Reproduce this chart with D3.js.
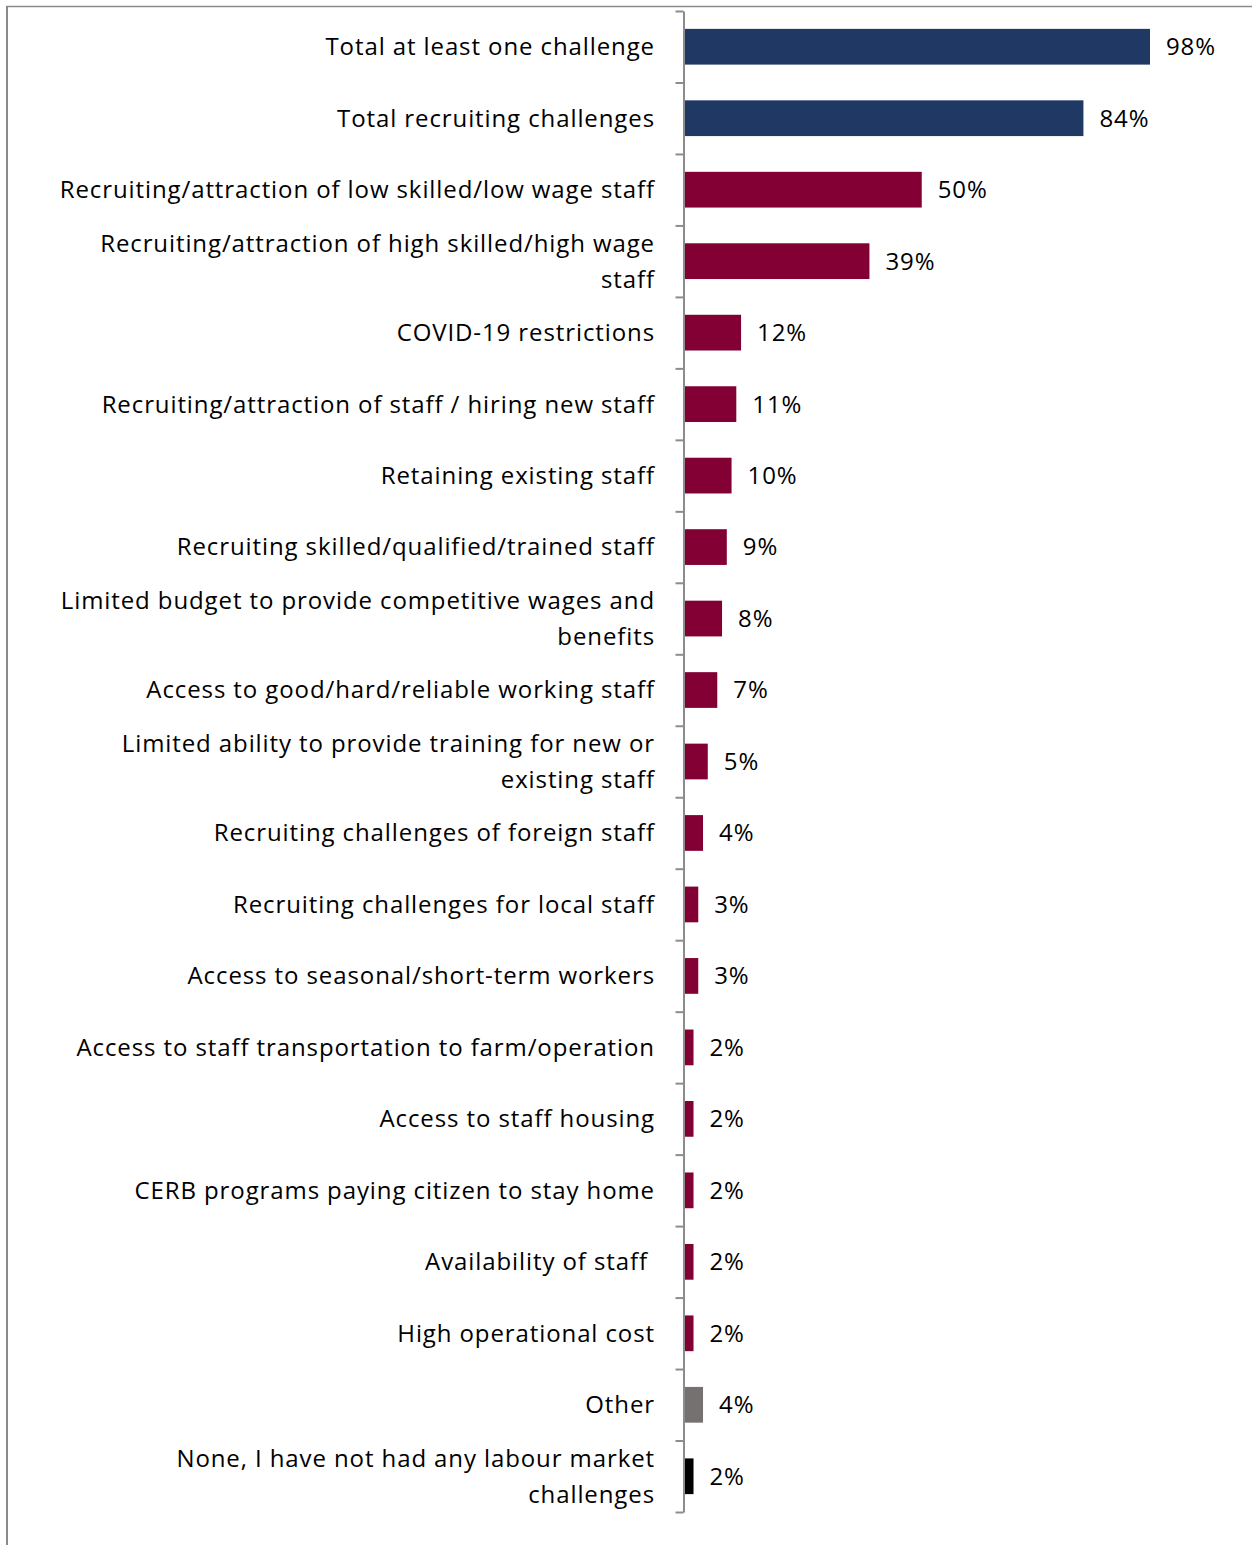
<!DOCTYPE html>
<html>
<head>
<meta charset="utf-8">
<script src="https://cdn.jsdelivr.net/npm/d3@7"></script>
<style>
  html, body { margin: 0; padding: 0; background: #fff; }
  svg { display: block; }
  text { font-family: "Open Sans", Lato, sans-serif; letter-spacing: 0.9px; }
</style>
</head>
<body>
<div id="chart"></div>
<script>
const categories = [
  "Total at least one challenge",
  "Total recruiting challenges",
  "Recruiting/attraction of low skilled/low wage staff",
  "Recruiting/attraction of high skilled/high wage\nstaff",
  "COVID-19 restrictions",
  "Recruiting/attraction of staff / hiring new staff",
  "Retaining existing staff",
  "Recruiting skilled/qualified/trained staff",
  "Limited budget to provide competitive wages and\nbenefits",
  "Access to good/hard/reliable working staff",
  "Limited ability to provide training for new or\nexisting staff",
  "Recruiting challenges of foreign staff",
  "Recruiting challenges for local staff",
  "Access to seasonal/short-term workers",
  "Access to staff transportation to farm/operation",
  "Access to staff housing",
  "CERB programs paying citizen to stay home",
  "Availability of staff ",
  "High operational cost",
  "Other",
  "None, I have not had any labour market\nchallenges"
];
const values = [98, 84, 50, 39, 12, 11, 10, 9, 8, 7, 5, 4, 3, 3, 2, 2, 2, 2, 2, 4, 2];
const groups = ["total", "total", "item", "item", "item", "item", "item", "item", "item", "item",
  "item", "item", "item", "item", "item", "item", "item", "item", "item", "other", "none"];
const groupColors = { total: "#203864", item: "#820034", other: "#767171", none: "#000000" };

(function () {
const W = 1253, H = 1545;
const svg = d3.select("#chart").append("svg").attr("width", W).attr("height", H);

// frame
svg.append("line").attr("x1", 7).attr("x2", 7).attr("y1", 6).attr("y2", H)
  .attr("stroke", "#8a8a8a").attr("stroke-width", 2);
svg.append("line").attr("x1", 6).attr("x2", 1252).attr("y1", 6.5).attr("y2", 6.5)
  .attr("stroke", "#8a8a8a").attr("stroke-width", 1.5);

const plotTop = 11, plotBottom = 1512, axisX = 683.5;
const y = d3.scaleBand().domain(d3.range(categories.length)).range([plotTop, plotBottom])
  .paddingInner(0.5).paddingOuter(0.25);
const x = d3.scaleLinear().domain([0, 100]).range([axisX + 0.5, 1159.5]);
const yb = d3.scaleLinear().domain([0, categories.length]).range([plotTop, plotBottom]);

// bars
svg.append("g").selectAll("rect").data(values).join("rect")
  .attr("x", x(0))
  .attr("y", (d, i) => y(i))
  .attr("width", d => x(d) - x(0))
  .attr("height", y.bandwidth())
  .attr("fill", (d, i) => groupColors[groups[i]]);

// axis
const ax = svg.append("g").attr("transform", `translate(${axisX},0)`)
  .call(d3.axisLeft(yb).tickValues(d3.range(categories.length + 1)).tickFormat("").tickSize(8).tickSizeOuter(0));
ax.selectAll("path, line").attr("stroke", "#8c8c8c").attr("stroke-width", 2);

// category labels
const fs = 24, lh = 36;
const lab = svg.append("g").selectAll("text").data(categories).join("text")
  .attr("x", 655)
  .attr("text-anchor", "end")
  .attr("font-size", fs)
  .attr("fill", "#000")
  .style("white-space", "pre")
  .attr("transform", (d, i) => `translate(0,${y(i) + y.bandwidth() / 2})`);
lab.each(function(d) {
  const lines = d.split("\n");
  const t = d3.select(this);
  lines.forEach((ln, k) => {
    t.append("tspan").attr("x", 655)
      .attr("y", (k - (lines.length - 1) / 2) * lh)
      .attr("dy", "0.35em")
      .text(ln);
  });
});

// value labels
svg.append("g").selectAll("text").data(values).join("text")
  .attr("x", d => x(d) + 16)
  .attr("y", (d, i) => y(i) + y.bandwidth() / 2)
  .attr("dy", "0.35em")
  .attr("font-size", fs)
  .attr("fill", "#000")
  .text(d => d + "%");
})();
</script>
</body>
</html>
